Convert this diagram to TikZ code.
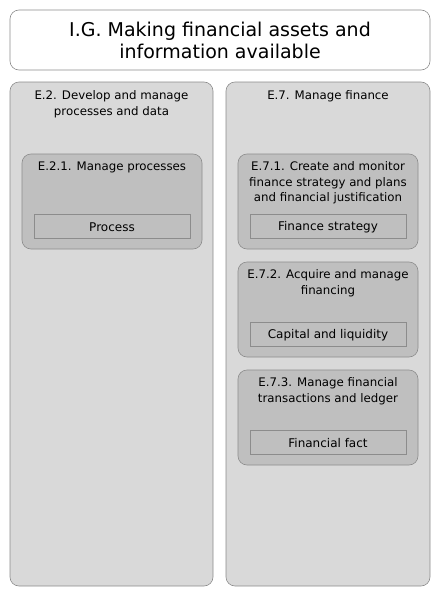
\documentclass[tikz,border=0pt]{standalone}
\usepackage{fontspec}
\setmainfont{DejaVu Sans}
\definecolor{outerfill}{HTML}{D9D9D9}
\definecolor{innerfill}{HTML}{BFBFBF}
\definecolor{edge}{HTML}{8C8C8C}
\begin{document}
\begin{tikzpicture}[x=1pt,y=-1pt,
  titlebox/.style={draw=edge,fill=white,rounded corners=9pt,line width=0.6pt},
  groupbox/.style={draw=edge,fill=outerfill,rounded corners=9pt,line width=0.6pt},
  procbox/.style={draw=edge,fill=innerfill,rounded corners=9pt,line width=0.6pt},
  entbox/.style={draw=edge,fill=innerfill,line width=0.6pt},
  lbl/.style={align=center,inner sep=0pt,font=\fontsize{11.8}{15.5}\selectfont,anchor=north},
  entlbl/.style={inner sep=0pt,font=\fontsize{12}{14}\selectfont}]
\useasboundingbox (0,0) rectangle (441,597);
% title
\draw[titlebox] (10,10) rectangle (430,70);
\node[align=center,inner sep=0pt,font=\fontsize{19}{22}\selectfont] (title) at (220,40.5) {I.G. Making financial assets and\\information available};
% groups
\draw[groupbox] (10,82) rectangle (213,586);
\node[lbl] (e2) at (111.5,90.5) {E.2. Develop and manage\\processes and data};
\draw[groupbox] (226,82) rectangle (430,586);
\node[lbl] (e7) at (328,90.5) {E.7. Manage finance};
% E.2.1
\draw[procbox] (22,154) rectangle (202,249);
\node[lbl] (e21) at (112,161.5) {E.2.1. Manage processes};
\draw[entbox] (34,214) rectangle (190,238);
\node[entlbl] (proc) at (112,227.3) {Process};
% E.7.1
\draw[procbox] (238,154) rectangle (418,249);
\node[lbl] (e71) at (328,161.5) {E.7.1. Create and monitor\\finance strategy and plans\\and financial justification};
\draw[entbox] (250,214) rectangle (406,238);
\node[entlbl] (fs) at (328,227.3) {Finance strategy};
% E.7.2
\draw[procbox] (238,262) rectangle (418,357);
\node[lbl] (e72) at (328,269.5) {E.7.2. Acquire and manage\\financing};
\draw[entbox] (250,322) rectangle (406,346);
\node[entlbl] (cl) at (328,335.3) {Capital and liquidity};
% E.7.3
\draw[procbox] (238,370) rectangle (418,465);
\node[lbl] (e73) at (328,377.5) {E.7.3. Manage financial\\transactions and ledger};
\draw[entbox] (250,430) rectangle (406,454);
\node[entlbl] (ff) at (328,443.3) {Financial fact};
\end{tikzpicture}
\end{document}
